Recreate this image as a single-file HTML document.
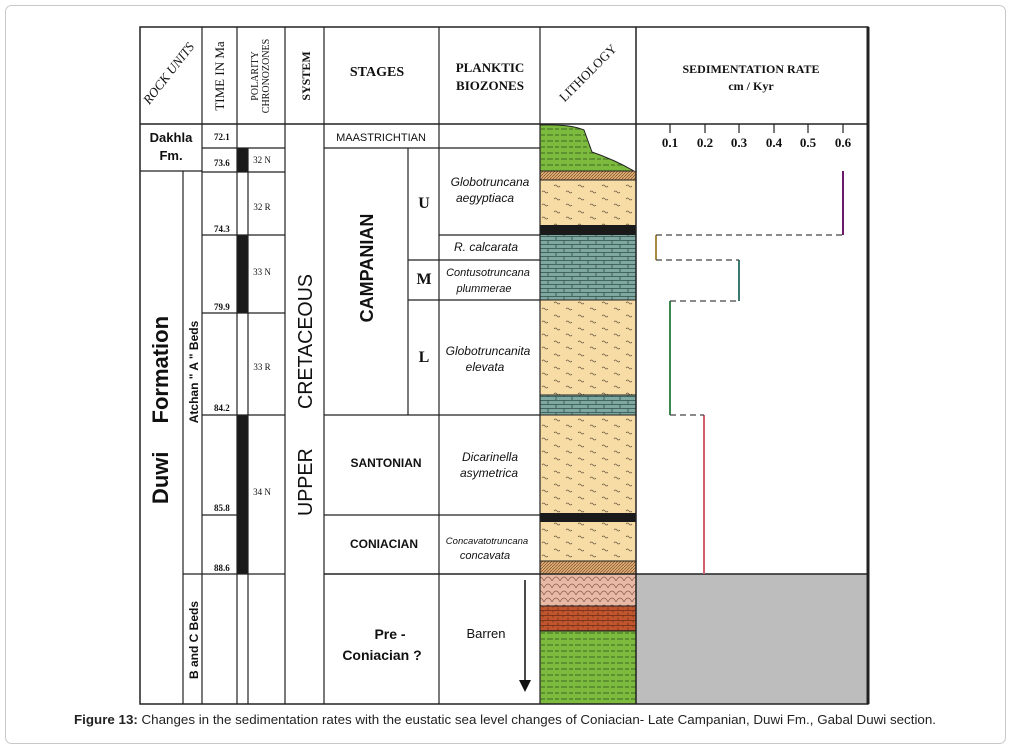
<!DOCTYPE html>
<html><head><meta charset="utf-8"><style>
html,body{margin:0;padding:0;background:#fff;}
svg{display:block}
</style></head><body>
<svg width="1012" height="749" viewBox="0 0 1012 749" xmlns="http://www.w3.org/2000/svg" font-family="Liberation Sans, Arial, sans-serif">
<defs>
<pattern id="sand" width="24" height="13" patternUnits="userSpaceOnUse">
<rect width="24" height="13" fill="#f7dca6"/>
<path d="M2 4 q1.5 -2 3 0 t3 0 M14 10 q1.5 -2 3 0 t3 0" stroke="#6b5a40" stroke-width="0.7" fill="none"/>
</pattern>
<pattern id="lime" width="16" height="8" patternUnits="userSpaceOnUse">
<rect width="16" height="8" fill="#7fa9a0"/>
<path d="M0 0.5H16M0 4.5H16M4 0.5V4.5M12 4.5V8.5" stroke="#2f4f4a" stroke-width="0.8"/>
</pattern>
<pattern id="shale" width="14" height="6" patternUnits="userSpaceOnUse">
<rect width="14" height="6" fill="#7dbb3f"/>
<path d="M1 3H7M9 3H13" stroke="#3f6a20" stroke-width="0.9"/>
</pattern>
<pattern id="hatch" width="3" height="3" patternUnits="userSpaceOnUse">
<rect width="3" height="3" fill="#e0b07a"/>
<path d="M0 3L3 0" stroke="#7a4a20" stroke-width="0.7"/>
</pattern>
<pattern id="cong" width="8" height="7" patternUnits="userSpaceOnUse">
<rect width="8" height="7" fill="#e8b9a4"/>
<path d="M0 7 Q4 -1 8 7" stroke="#8a5a50" stroke-width="0.7" fill="none"/>
</pattern>
<pattern id="brick" width="10" height="5" patternUnits="userSpaceOnUse">
<rect width="10" height="5" fill="#c0552e"/>
<path d="M0 0.5H10M3 0.5V2.5M8 2.5V5" stroke="#6a2a15" stroke-width="0.7"/>
</pattern>
</defs>
<rect x="5.5" y="5.5" width="1000" height="738" rx="6" fill="#fff" stroke="#c8c8c8"/>

<rect x="540" y="171" width="96" height="9" fill="url(#hatch)"/>
<rect x="540" y="180" width="96" height="45" fill="url(#sand)"/>
<rect x="540" y="225" width="96" height="10" fill="#1a1a1a"/>
<rect x="540" y="235" width="96" height="65" fill="url(#lime)"/>
<rect x="540" y="300" width="96" height="95" fill="url(#sand)"/>
<rect x="540" y="395" width="96" height="20" fill="url(#lime)"/>
<rect x="540" y="415" width="96" height="98" fill="url(#sand)"/>
<rect x="540" y="513" width="96" height="9" fill="#1a1a1a"/>
<rect x="540" y="522" width="96" height="39" fill="url(#sand)"/>
<rect x="540" y="561" width="96" height="13" fill="url(#hatch)" stroke="#222" stroke-width="1"/>
<rect x="540" y="574" width="96" height="32" fill="url(#cong)"/>
<rect x="540" y="606" width="96" height="25" fill="url(#brick)"/>
<rect x="540" y="631" width="96" height="73" fill="url(#shale)"/>
<path d="M540 125 Q570 124 584 130 L592 152 Q615 160 634 171 L540 171 Z" fill="url(#shale)" stroke="#222" stroke-width="1"/>
<g stroke="#222" stroke-width="1">
<line x1="540" y1="180" x2="636" y2="180"/><line x1="540" y1="300" x2="636" y2="300"/>
<line x1="540" y1="395" x2="636" y2="395"/><line x1="540" y1="415" x2="636" y2="415"/>
<line x1="540" y1="606" x2="636" y2="606"/><line x1="540" y1="631" x2="636" y2="631"/>
</g>

<rect x="636" y="574" width="232" height="130" fill="#bdbdbd"/>

<rect x="237" y="148" width="11" height="24" fill="#1a1a1a"/>
<rect x="237" y="235" width="11" height="78" fill="#1a1a1a"/>
<rect x="237" y="415" width="11" height="159" fill="#1a1a1a"/>

<g stroke="#222" stroke-width="1.2" fill="none">
<rect x="140" y="27" width="728" height="677" stroke-width="1.5"/>
<line x1="868" y1="27" x2="868" y2="704" stroke-width="3"/>
<line x1="140" y1="124" x2="868" y2="124" stroke-width="1.5"/>
<line x1="202" y1="27" x2="202" y2="704"/>
<line x1="183" y1="171" x2="183" y2="704"/>
<line x1="140" y1="171" x2="202" y2="171"/>
<line x1="183" y1="574" x2="202" y2="574"/>
<line x1="237" y1="27" x2="237" y2="704"/>
<line x1="248" y1="148" x2="248" y2="704"/>
<line x1="285" y1="27" x2="285" y2="704"/>
<line x1="324" y1="27" x2="324" y2="704"/>
<line x1="439" y1="27" x2="439" y2="704"/>
<line x1="540" y1="27" x2="540" y2="704"/>
<line x1="636" y1="27" x2="636" y2="704" stroke-width="1.5"/>
<line x1="408" y1="148" x2="408" y2="415"/>
<line x1="202" y1="148" x2="285" y2="148"/>
<line x1="202" y1="172" x2="285" y2="172"/>
<line x1="202" y1="235" x2="285" y2="235"/>
<line x1="202" y1="313" x2="285" y2="313"/>
<line x1="202" y1="415" x2="285" y2="415"/>
<line x1="202" y1="515" x2="237" y2="515"/>
<line x1="202" y1="574" x2="285" y2="574"/>
<line x1="324" y1="148" x2="540" y2="148"/>
<line x1="439" y1="235" x2="540" y2="235"/>
<line x1="408" y1="260" x2="540" y2="260"/>
<line x1="408" y1="300" x2="540" y2="300"/>
<line x1="324" y1="415" x2="540" y2="415"/>
<line x1="324" y1="515" x2="540" y2="515"/>
<line x1="324" y1="574" x2="868" y2="574" stroke-width="1.5"/>
</g>

<g stroke="#222" stroke-width="1.2">
<line x1="670" y1="124" x2="670" y2="133"/><line x1="705" y1="124" x2="705" y2="133"/>
<line x1="739" y1="124" x2="739" y2="133"/><line x1="774" y1="124" x2="774" y2="133"/>
<line x1="808" y1="124" x2="808" y2="133"/><line x1="843" y1="124" x2="843" y2="133"/>
</g>
<g font-family="Liberation Serif, serif" font-weight="bold" font-size="13" text-anchor="middle" fill="#111">
<text x="670" y="147">0.1</text><text x="705" y="147">0.2</text><text x="739" y="147">0.3</text>
<text x="774" y="147">0.4</text><text x="808" y="147">0.5</text><text x="843" y="147">0.6</text>
</g>
<g fill="none" stroke-width="2">
<line x1="843" y1="171" x2="843" y2="235" stroke="#6a1a6a"/>
<line x1="656" y1="235" x2="656" y2="260" stroke="#a88a40"/>
<line x1="739" y1="260" x2="739" y2="301" stroke="#3a7a70"/>
<line x1="670" y1="301" x2="670" y2="415" stroke="#3a8a50"/>
<line x1="704" y1="415" x2="704" y2="574" stroke="#d06070"/>
</g>
<g stroke="#444" stroke-width="1.3" stroke-dasharray="6,4">
<line x1="656" y1="235" x2="843" y2="235"/>
<line x1="656" y1="260" x2="739" y2="260"/>
<line x1="670" y1="301" x2="739" y2="301"/>
<line x1="670" y1="415" x2="704" y2="415"/>
</g>

<g font-family="Liberation Serif, serif" fill="#111">
<text transform="translate(172,76) rotate(-52)" font-size="13" text-anchor="middle" font-style="italic">ROCK UNITS</text>
<text transform="translate(224,76) rotate(-90)" font-size="13" text-anchor="middle">TIME IN Ma</text>
<text transform="translate(258,76) rotate(-90)" font-size="10" text-anchor="middle">POLARITY</text>
<text transform="translate(269,76) rotate(-90)" font-size="10" text-anchor="middle">CHRONOZONES</text>
<text transform="translate(310,76) rotate(-90)" font-size="12" text-anchor="middle" font-weight="bold">SYSTEM</text>
<text x="377" y="76" font-size="14" text-anchor="middle" font-weight="bold">STAGES</text>
<text x="490" y="72" font-size="13" text-anchor="middle" font-weight="bold">PLANKTIC</text>
<text x="490" y="90" font-size="13" text-anchor="middle" font-weight="bold">BIOZONES</text>
<text transform="translate(591,76) rotate(-45)" font-size="13" text-anchor="middle">LITHOLOGY</text>
<text x="751" y="73" font-size="12" text-anchor="middle" font-weight="bold">SEDIMENTATION RATE</text>
<text x="751" y="90" font-size="12" text-anchor="middle" font-weight="bold">cm / Kyr</text>
<g font-size="9" font-weight="bold">
<text x="214" y="140">72.1</text><text x="214" y="166">73.6</text><text x="214" y="232">74.3</text>
<text x="214" y="310">79.9</text><text x="214" y="411">84.2</text><text x="214" y="511">85.8</text><text x="214" y="571">88.6</text>
</g>
<g font-size="9" text-anchor="middle">
<text x="262" y="163">32 N</text><text x="262" y="210">32 R</text><text x="262" y="275">33 N</text>
<text x="262" y="370">33 R</text><text x="262" y="495">34 N</text>
</g>
<g font-size="16" font-weight="bold" text-anchor="middle">
<text x="424" y="208">U</text><text x="424" y="284">M</text><text x="424" y="362">L</text>
</g>
</g>
<g fill="#111">
<text x="171" y="142" font-size="13" font-weight="bold" text-anchor="middle">Dakhla</text>
<text x="171" y="160" font-size="13" font-weight="bold" text-anchor="middle">Fm.</text>
<text transform="translate(168,410) rotate(-90)" font-size="22" font-weight="bold" text-anchor="middle">Duwi<tspan dx="28">Formation</tspan></text>
<text transform="translate(198,372) rotate(-90)" font-size="12" font-weight="bold" text-anchor="middle">Atchan  " A "  Beds</text>
<text transform="translate(198,640) rotate(-90)" font-size="12" font-weight="bold" text-anchor="middle">B and C Beds</text>
<text transform="translate(312,395) rotate(-90)" font-size="20" text-anchor="middle" textLength="242" lengthAdjust="spacingAndGlyphs">UPPER<tspan dx="40">CRETACEOUS</tspan></text>
<text x="381" y="141" font-size="11" text-anchor="middle">MAASTRICHTIAN</text>
<text transform="translate(373,268) rotate(-90)" font-size="18" font-weight="bold" text-anchor="middle">CAMPANIAN</text>
<text x="386" y="467" font-size="12" font-weight="bold" text-anchor="middle">SANTONIAN</text>
<text x="384" y="548" font-size="12" font-weight="bold" text-anchor="middle">CONIACIAN</text>
<text x="390" y="639" font-size="14" font-weight="bold" text-anchor="middle">Pre -</text>
<text x="382" y="660" font-size="14" font-weight="bold" text-anchor="middle">Coniacian ?</text>
<g font-size="12" font-style="italic" text-anchor="middle">
<text x="490" y="186">Globotruncana</text><text x="485" y="202">aegyptiaca</text>
<text x="486" y="251">R. calcarata</text>
<text x="488" y="276" font-size="11">Contusotruncana</text><text x="484" y="292" font-size="11">plummerae</text>
<text x="488" y="355">Globotruncanita</text><text x="485" y="371">elevata</text>
<text x="490" y="461">Dicarinella</text><text x="489" y="477">asymetrica</text>
<text x="487" y="544" font-size="9.5">Concavatotruncana</text><text x="485" y="559" font-size="11">concavata</text>
</g>
<text x="486" y="638" font-size="13" text-anchor="middle">Barren</text>
<line x1="525" y1="580" x2="525" y2="685" stroke="#111" stroke-width="1.5"/>
<path d="M519 680 L531 680 L525 692 Z" fill="#111"/>
</g>
<text x="505" y="724" font-size="13" text-anchor="middle" fill="#222" textLength="862" lengthAdjust="spacingAndGlyphs"><tspan font-weight="bold">Figure 13:</tspan> Changes in the sedimentation rates with the eustatic sea level changes of Coniacian- Late Campanian, Duwi Fm., Gabal Duwi section.</text>
</svg>
</body></html>
